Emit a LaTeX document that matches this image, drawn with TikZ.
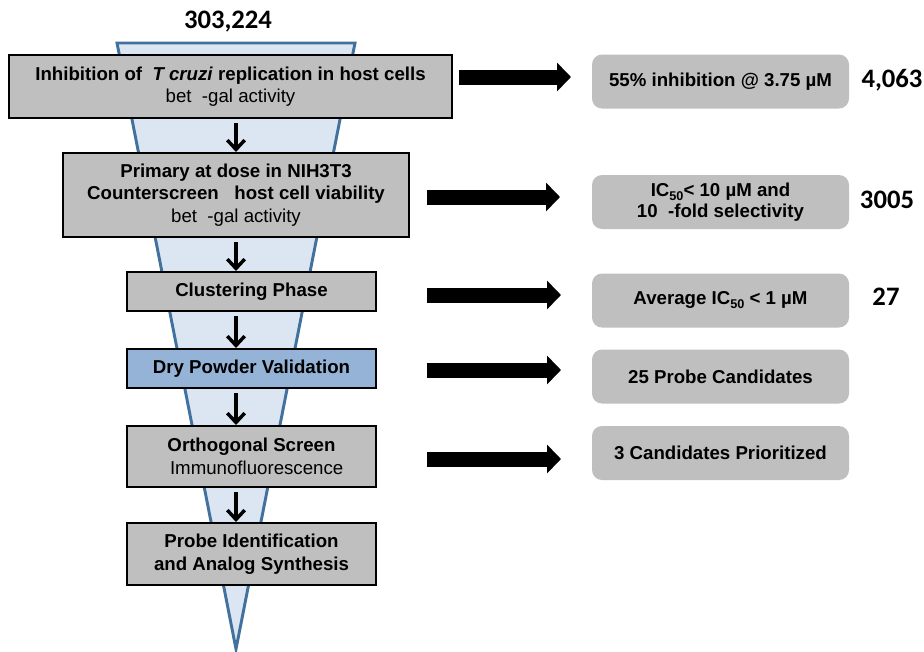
\documentclass[tikz,border=0pt]{standalone}
\usepackage{fontspec}
\setmainfont{Liberation Sans}
\newfontfamily\countfont{Carlito}
\usepackage{xcolor}
\usetikzlibrary{arrows.meta}

\definecolor{funnelfill}{HTML}{DCE6F2}
\definecolor{funneldraw}{HTML}{41719C}
\definecolor{stagegray}{HTML}{BFBFBF}
\definecolor{drypowder}{HTML}{95B3D7}
\newcommand{\lowidx}[1]{\raisebox{-0.4ex}{\fontsize{9.5}{10}\selectfont #1}}

\begin{document}
\begin{tikzpicture}[
  x=0.75pt, y=-0.75pt,
  stage/.style={draw=black, line width=1.5pt, fill=stagegray, inner sep=0pt, align=center, font=\fontsize{14}{17}\selectfont\bfseries},
  result/.style={fill=stagegray, rounded corners=7.5pt, minimum width=192.75pt, minimum height=40.5pt, inner sep=0pt, align=center, font=\fontsize{14}{15.5}\selectfont\bfseries},
  count/.style={font=\countfont\fontsize{20}{22}\selectfont\bfseries},
  flowarr/.style={-{Straight Barb[length=7pt, width=13pt]}, line width=2.6pt, shorten <=3pt},
  block/.style={-{Triangle[length=10.5pt, width=21pt]}, line width=11.25pt}
]
  \useasboundingbox (0,0) rectangle (924,651);

  % Funnel
  \draw[fill=funnelfill, draw=funneldraw, line width=2.2pt, line join=miter] (117,43) -- (355,43) -- (236,649) -- cycle;
  \node[count] (total) at (228,22) {303,224};

  % Stages
  \node[stage, minimum width=332.25pt, minimum height=47.25pt] (inhib) at (230.5,86.5) {Inhibition of~~\textit{T cruzi} replication in host cells\\{\mdseries bet~~-gal activity}};
  \node[stage, minimum width=259.5pt, minimum height=63pt] (counter) at (236,195) {Primary at dose in NIH3T3\\Counterscreen~~~host cell viability\\{\mdseries bet~~-gal activity}};
  \node[stage, minimum width=186.75pt, minimum height=29.25pt] (cluster) at (251.5,291.5) {Clustering Phase};
  \node[stage, fill=drypowder, minimum width=186.75pt, minimum height=29.25pt] (dry) at (251.5,368.5) {Dry Powder Validation};
  \node[stage, minimum width=186.75pt, minimum height=45.75pt] (ortho) at (251.5,456.5) {Orthogonal Screen\\{\mdseries ~~Immunofluorescence}};
  \node[stage, minimum width=186.75pt, minimum height=46.5pt] (probe) at (251.5,554) {Probe Identification\\and Analog Synthesis};

  \coordinate (axis) at (236,0);
  \draw[flowarr] (inhib.south -| axis) -- (counter.north -| axis);
  \draw[flowarr] (counter.south -| axis) -- (cluster.north -| axis);
  \draw[flowarr] (cluster.south -| axis) -- (dry.north -| axis);
  \draw[flowarr] (dry.south -| axis) -- (ortho.north -| axis);
  \draw[flowarr] (ortho.south -| axis) -- (probe.north -| axis);

  % Results
  \node[result] (hit) at (720.5,81.5) {55\% inhibition @ 3.75 µM};
  \node[result] (select) at (720.5,202) {IC\lowidx{50}< 10 µM and\\10~~-fold selectivity};
  \node[result] (avg) at (720.5,300.5) {Average IC\lowidx{50} < 1 µM};
  \node[result] (cand) at (720.5,376.5) {25 Probe Candidates};
  \node[result] (prior) at (720.5,453) {3 Candidates Prioritized};

  \node[count] (nhit) at (892,80) {4,063};
  \node[count] (nselect) at (887,200) {3005};
  \node[count] (navg) at (886,297) {27};

  % Block arrows
  \coordinate (a1s) at (459,77);  \coordinate (a1e) at (571,77);
  \coordinate (a2s) at (427,197); \coordinate (a2e) at (560,197);
  \coordinate (a3s) at (427,295); \coordinate (a3e) at (561,295);
  \coordinate (a4s) at (427,370); \coordinate (a4e) at (561,370);
  \coordinate (a5s) at (427,459); \coordinate (a5e) at (561,459);
  \draw[block] (a1s) -- (a1e);
  \draw[block] (a2s) -- (a2e);
  \draw[block] (a3s) -- (a3e);
  \draw[block] (a4s) -- (a4e);
  \draw[block] (a5s) -- (a5e);
\end{tikzpicture}
\end{document}
